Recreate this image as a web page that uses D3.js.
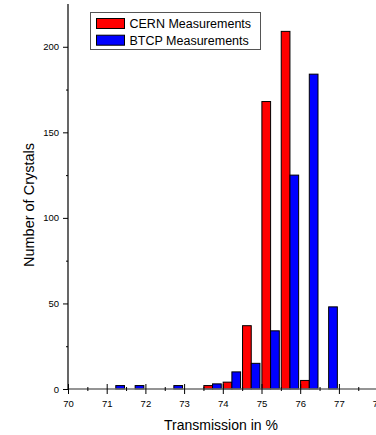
<!DOCTYPE html>
<html>
<head>
<meta charset="utf-8">
<script src="https://cdn.jsdelivr.net/npm/d3@7"></script>
<style>
  html, body { margin: 0; padding: 0; background: #fff; }
  svg { display: block; font-family: "Liberation Sans", Arial, sans-serif; }
</style>
</head>
<body>
<svg id="chart" width="376" height="435"></svg>
<script>
// Data (bin starts in % transmission, bin width 0.5)
const bins = [71, 71.5, 72, 72.5, 73, 73.5, 74, 74.5, 75, 75.5, 76, 76.5, 77];
const cernValues = [0, 0, 0, 0, 0, 2, 4, 37, 168, 209, 5, 0, 0];
const btcpValues = [2, 2, 0, 2, 0, 3, 10, 15, 34, 125, 184, 48, 0];
const seriesNames = ["CERN Measurements", "BTCP Measurements"];
const seriesColors = ["#ff0000", "#0000ff"];
const xMajorTicks = [70, 71, 72, 73, 74, 75, 76, 77, 78];
const xMinorTicks = [70.5, 71.5, 72.5, 73.5, 74.5, 75.5, 76.5, 77.5];
const yMajorTicks = [0, 50, 100, 150, 200];
const yMinorTicks = [25, 75, 125, 175];
const xTitle = "Transmission in %";
const yTitle = "Number of Crystals";

const svg = d3.select("#chart");
const x = d3.scaleLinear().domain([70, 78]).range([68, 377.6]);
const y = d3.scaleLinear().domain([0, 225]).range([389, 4]);
const barW = 0.225;

const series = [cernValues, btcpValues];
const offsets = [0.01, 0.235];

series.forEach((vals, si) => {
  svg.append("g").selectAll("rect")
    .data(bins.map((b, i) => ({ b, v: vals[i] })).filter(d => d.v > 0))
    .join("rect")
    .attr("x", d => x(d.b + offsets[si]))
    .attr("width", d => x(d.b + offsets[si] + barW) - x(d.b + offsets[si]))
    .attr("y", d => y(d.v))
    .attr("height", d => y(0) - y(d.v))
    .attr("fill", seriesColors[si])
    .attr("stroke", "#000")
    .attr("stroke-width", 1);
});

// X axis
const xAxis = svg.append("g").attr("transform", `translate(0,${y(0)})`)
  .call(d3.axisBottom(x).tickValues(xMajorTicks).tickFormat(d3.format("d")).tickSize(5).tickPadding(6));
xAxis.select(".domain").attr("stroke", "#707070").attr("stroke-width", 1.3).attr("d", `M${x(70)},0H376`);
xAxis.selectAll(".tick line").attr("y1", -5).attr("y2", 5).attr("stroke", "#000");
xAxis.selectAll(".tick text").attr("font-size", 9.5).attr("fill", "#000").attr("font-family", "Liberation Sans, Arial, sans-serif");
const xMinor = svg.append("g").attr("transform", `translate(0,${y(0)})`)
  .call(d3.axisBottom(x).tickValues(xMinorTicks).tickFormat("").tickSize(2));
xMinor.select(".domain").remove();
xMinor.selectAll(".tick line").attr("y1", -2).attr("y2", 2).attr("stroke", "#000");

// Y axis
const yAxis = svg.append("g").attr("transform", `translate(${x(70)},0)`)
  .call(d3.axisLeft(y).tickValues(yMajorTicks).tickFormat(d3.format("d")).tickSize(5).tickPadding(4));
yAxis.select(".domain").attr("stroke", "#000").attr("stroke-width", 1.2).attr("d", `M0,${y(0)}V${y(225)}`);
yAxis.selectAll(".tick text").attr("font-size", 9.5).attr("fill", "#000").attr("font-family", "Liberation Sans, Arial, sans-serif");
const yMinor = svg.append("g").attr("transform", `translate(${x(70)},0)`)
  .call(d3.axisLeft(y).tickValues(yMinorTicks).tickFormat("").tickSize(2));
yMinor.select(".domain").remove();

// Titles
svg.append("text").attr("x", 221).attr("y", 430).attr("text-anchor", "middle")
  .attr("font-size", 14).text(xTitle);
svg.append("text").attr("transform", "translate(34,205) rotate(-90)").attr("text-anchor", "middle")
  .attr("font-size", 14.5).text(yTitle);

// Legend
const lg = svg.append("g");
lg.append("rect").attr("x", 90.5).attr("y", 12.5).attr("width", 170).attr("height", 37)
  .attr("fill", "#fff").attr("stroke", "#555").attr("stroke-width", 1);
seriesNames.forEach((name, i) => {
  lg.append("rect").attr("x", 96.5).attr("y", 18.5 + i * 16.7).attr("width", 28).attr("height", 10)
    .attr("fill", seriesColors[i]).attr("stroke", "#000").attr("stroke-width", 1);
  lg.append("text").attr("x", 129.5).attr("y", 28 + i * 16.7).attr("font-size", 12.5).text(name);
});
</script>
</body>
</html>
